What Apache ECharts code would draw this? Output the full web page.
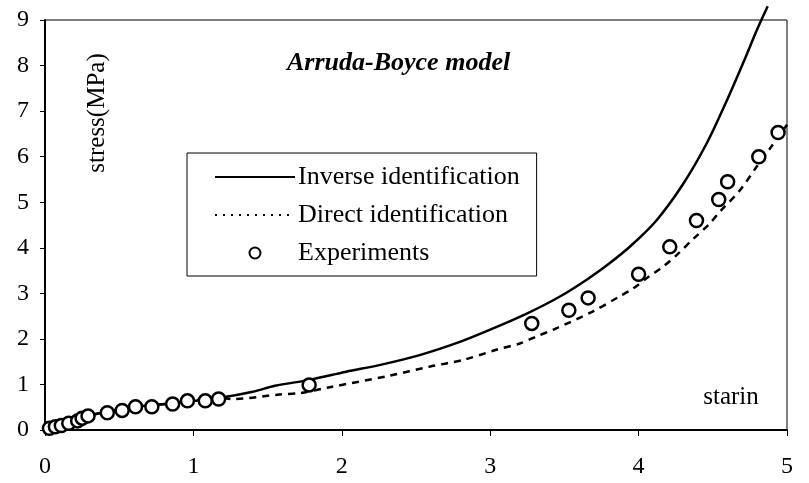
<!DOCTYPE html>
<html>
<head>
<meta charset="utf-8">
<script src="https://cdn.jsdelivr.net/npm/echarts@6/dist/echarts.min.js"></script>
<style>
  html, body { margin: 0; padding: 0; background: #fff; }
  #chart { width: 809px; height: 483px; }
</style>
</head>
<body>
<div id="chart"></div>
<script>
// values
const inverseX = [0, 0.1, 0.3, 0.6, 0.9, 1.2, 1.4, 1.55, 1.78, 2.03, 2.26, 2.53, 2.8, 3.02, 3.25, 3.47, 3.65, 3.8, 3.95, 4.12, 4.3, 4.46, 4.59, 4.71, 4.8, 4.87];
const inverseY = [0, 0.12, 0.32, 0.5, 0.6, 0.72, 0.84, 0.97, 1.1, 1.28, 1.43, 1.65, 1.94, 2.23, 2.56, 2.93, 3.3, 3.65, 4.05, 4.6, 5.4, 6.3, 7.2, 8.1, 8.8, 9.3];

const directX = [0, 0.1, 0.3, 0.6, 0.9, 1.17, 1.27, 1.58, 1.72, 1.92, 2.32, 2.59, 2.82, 3.04, 3.2, 3.31, 3.43, 3.69, 3.87, 3.96, 4.07, 4.17, 4.26, 4.37, 4.47, 4.55, 4.68, 4.8, 4.89, 5.0];
const directY = [0, 0.12, 0.32, 0.5, 0.6, 0.7, 0.68, 0.78, 0.81, 0.94, 1.19, 1.39, 1.54, 1.76, 1.9, 2.05, 2.21, 2.6, 2.93, 3.1, 3.37, 3.6, 3.85, 4.2, 4.5, 4.8, 5.25, 5.8, 6.2, 6.7];

const expX = [0.03, 0.07, 0.11, 0.16, 0.22, 0.25, 0.29, 0.42, 0.52, 0.61, 0.72, 0.86, 0.96, 1.08, 1.17, 1.78, 3.28, 3.53, 3.66, 4.0, 4.21, 4.39, 4.54, 4.6, 4.81, 4.94];
const expY = [0.04, 0.07, 0.1, 0.15, 0.2, 0.26, 0.31, 0.38, 0.43, 0.51, 0.51, 0.57, 0.64, 0.64, 0.68, 0.99, 2.34, 2.63, 2.9, 3.42, 4.02, 4.6, 5.06, 5.45, 6.0, 6.53];

const xTicks = [0, 1, 2, 3, 4, 5];
const yTicks = [0, 1, 2, 3, 4, 5, 6, 7, 8, 9];

const font = 'Liberation Serif, Times New Roman, serif';
const zip = (xs, ys) => xs.map((x, i) => [x, ys[i]]);
const noDot = { color: 'rgba(0,0,0,0)', borderWidth: 0, opacity: 0 };

const chart = echarts.init(document.getElementById('chart'));

const option = {
  backgroundColor: '#fff',
  animation: false,
  grid: {
    left: 45, right: 22, top: 20, bottom: 53,
    show: true, borderColor: '#000', borderWidth: 1
  },
  xAxis: {
    type: 'value',
    min: xTicks[0], max: xTicks[xTicks.length - 1], interval: 1,
    axisLine: { show: true, onZero: false, lineStyle: { color: '#000', width: 2 } },
    axisTick: { show: true, inside: false, length: 6, lineStyle: { color: '#000', width: 1 } },
    axisLabel: { color: '#000', fontFamily: font, fontSize: 24, margin: 25 },
    splitLine: { show: false }
  },
  yAxis: {
    type: 'value',
    min: yTicks[0], max: yTicks[yTicks.length - 1], interval: 1,
    axisLine: { show: true, lineStyle: { color: '#000', width: 2 } },
    axisTick: { show: true, inside: false, length: 5, lineStyle: { color: '#000', width: 1 } },
    axisLabel: { color: '#000', fontFamily: font, fontSize: 24, margin: 16 },
    splitLine: { show: false }
  },
  legend: {
    orient: 'vertical',
    left: 187, top: 153,
    padding: [11, 17, 10, 27],
    itemGap: 12,
    itemWidth: 80, itemHeight: 11,
    backgroundColor: '#fff',
    borderColor: '#000', borderWidth: 1,
    textStyle: { color: '#000', fontFamily: font, fontSize: 26, padding: [0, 0, 0, -2] },
    data: [
      { name: 'Inverse identification', itemStyle: noDot },
      { name: 'Direct identification', itemStyle: noDot, lineStyle: { type: [2, 6], width: 2 } },
      { name: 'Experiments' }
    ]
  },
  graphic: [
    {
      type: 'text', left: 287, top: 50,
      style: { text: 'Arruda-Boyce model', fill: '#000', font: 'italic bold 26px ' + font }
    },
    {
      type: 'text', x: 97, y: 113, rotation: Math.PI / 2,
      style: { text: 'stress(MPa)', fill: '#000', font: '25px ' + font, align: 'center', verticalAlign: 'middle' }
    },
    {
      type: 'text', x: 731, y: 397,
      style: { text: 'starin', fill: '#000', font: '25px ' + font, align: 'center', verticalAlign: 'middle' }
    }
  ],
  series: [
    {
      name: 'Inverse identification',
      type: 'line',
      data: zip(inverseX, inverseY),
      symbol: 'none',
      smooth: 0.3,
      clip: false,
      itemStyle: { color: '#000' },
      lineStyle: { color: '#000', width: 2.5 },
      z: 2
    },
    {
      name: 'Direct identification',
      type: 'line',
      data: zip(directX, directY),
      symbol: 'none',
      smooth: 0.3,
      itemStyle: { color: '#000' },
      lineStyle: { color: '#000', width: 2.5, type: [7, 6] },
      z: 2
    },
    {
      name: 'Experiments',
      type: 'scatter',
      data: zip(expX, expY),
      symbol: 'circle',
      symbolSize: 13,
      itemStyle: { color: '#fff', borderColor: '#000', borderWidth: 2.5, opacity: 1 },
      z: 3
    }
  ]
};

chart.setOption(option);
</script>
</body>
</html>
